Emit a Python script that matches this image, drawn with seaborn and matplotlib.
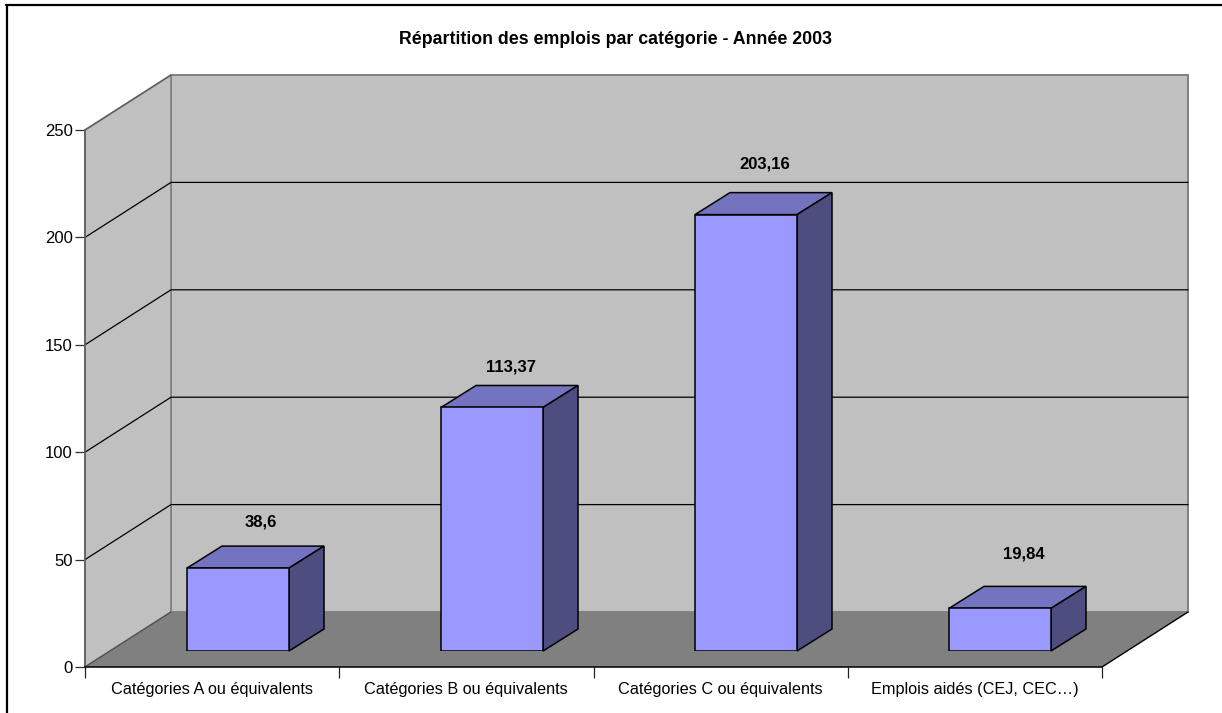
import pandas as pd
import seaborn as sns
import matplotlib.pyplot as plt
from matplotlib.ticker import FixedLocator, NullFormatter

categories = ['Catégories A ou équivalents', 'Catégories B ou équivalents',
              'Catégories C ou équivalents', 'Emplois aidés (CEJ, CEC…)']
values = [38.6, 113.37, 203.16, 19.84]
value_labels = ['38,6', '113,37', '203,16', '19,84']
y_ticks = [0, 50, 100, 150, 200, 250]

W, H = 1222, 713
sns.set_theme(style='white')
plt.rcParams['font.family'] = ['Liberation Sans', 'DejaVu Sans']

df = pd.DataFrame({'categorie': categories, 'emplois': values})


def axes_px(fig, x0, x1, y_bottom, y_top):
    return fig.add_axes([x0 / W, 1 - y_bottom / H, (x1 - x0) / W, (y_bottom - y_top) / H])


fig = plt.figure(figsize=(W / 100, H / 100), dpi=100, facecolor='white')

# front plane: carries the axis lines, ticks and tick labels
ax_front = axes_px(fig, 85, 1102, 667, 130)
ax_front.set_xlim(-0.5, 3.5)
ax_front.set_ylim(0, 250)
ax_front.patch.set_visible(False)

px_x = 1017 / 4
px_y = 537 / 250
wall_dx = 86 / px_x
wall_dy = 55 / px_y

left, right = -0.5, 3.5
back = lambda x, y: (x + wall_dx, y + wall_dy)

ax_front.fill([back(left, 0)[0], back(right, 0)[0], back(right, 250)[0], back(left, 250)[0]],
              [back(left, 0)[1], back(right, 0)[1], back(right, 250)[1], back(left, 250)[1]],
              color='#C0C0C0', ec='#808080', lw=1.4, clip_on=False, zorder=1)
ax_front.fill([left, back(left, 0)[0], back(left, 250)[0], left],
              [0, wall_dy, 250 + wall_dy, 250],
              color='#C0C0C0', ec='#808080', lw=1.2, clip_on=False, zorder=1)
ax_front.fill([left, right, back(right, 0)[0], back(left, 0)[0]],
              [0, 0, wall_dy, wall_dy],
              color='#808080', ec='none', clip_on=False, zorder=1.5)
ax_front.plot([right, back(right, 0)[0]], [0, wall_dy], color='black', lw=1, clip_on=False, zorder=2)
ax_front.plot([left, back(left, 0)[0]], [0, wall_dy], color='#505050', lw=0.9, clip_on=False, zorder=2)

# grid lines go along the side wall then the back wall
for t in y_ticks[1:-1]:
    ax_front.plot([left, back(left, t)[0], back(right, t)[0]], [t, t + wall_dy, t + wall_dy],
                  color='black', lw=0.9, clip_on=False, zorder=2)
ax_front.plot([left, back(left, 250)[0]], [250, 250 + wall_dy], color='#606060', lw=1, clip_on=False, zorder=2)

sns.despine(ax=ax_front, top=True, right=True)
ax_front.spines['left'].set_color('#606060')
ax_front.spines['left'].set_linewidth(1.2)
ax_front.spines['bottom'].set_color('black')
ax_front.spines['bottom'].set_linewidth(1.1)
for s in ax_front.spines.values():
    s.set_zorder(3)

ax_front.set_yticks(y_ticks)
ax_front.tick_params(axis='y', length=7, width=0.9, color='#303030', pad=2, labelsize=12,
                     labelcolor='black', left=True)
ax_front.set_xticks(range(len(categories)))
ax_front.set_xticklabels(categories)
ax_front.xaxis.set_minor_locator(FixedLocator([-0.5, 0.5, 1.5, 2.5, 3.5]))
ax_front.xaxis.set_minor_formatter(NullFormatter())
ax_front.tick_params(axis='x', which='major', length=0, pad=11, labelsize=11.7, labelcolor='black')
ax_front.tick_params(axis='x', which='minor', length=8, width=0.9, color='#202020', bottom=True)
ax_front.set_xlabel('')
ax_front.set_ylabel('')

# bar plane, a bit behind the front plane
ax = axes_px(fig, 111, 1127, 651, 114)
ax.patch.set_visible(False)
bar_px_x = 254
sns.barplot(data=df, x='categorie', y='emplois', ax=ax, width=102 / bar_px_x,
            color='#9999FF', saturation=1, edgecolor='black', linewidth=1.1, zorder=5)
ax.set_xlim(-0.5, 3.5)
ax.set_ylim(0, 250)
ax.axis('off')

depth_x = 35 / bar_px_x
depth_y = 22 / px_y
for bar in ax.patches:
    x0 = bar.get_x()
    x1 = x0 + bar.get_width()
    h = bar.get_height()
    ax.fill([x0, x1, x1 + depth_x, x0 + depth_x], [h, h, h + depth_y, h + depth_y],
            fc='#7373BF', ec='black', lw=1.1, clip_on=False, zorder=4)
    ax.fill([x1, x1 + depth_x, x1 + depth_x, x1], [0, depth_y, h + depth_y, h],
            fc='#4D4D80', ec='black', lw=1.1, clip_on=False, zorder=4)

label_dx = [23, 19, 19, 24]
label_dy = [46, 40, 51, 54]
for i, lab in enumerate(value_labels):
    ax.text(i + label_dx[i] / bar_px_x, values[i] + label_dy[i] / px_y, lab,
            ha='center', va='center', fontsize=12, fontweight='bold', color='black', clip_on=False)

fig.text(615 / W, 1 - 40 / H, 'Répartition des emplois par catégorie - Année 2003',
         ha='center', va='center', fontsize=12.8, fontweight='bold', color='black')

# outer frame, only top and left show up in the picture
fig.add_artist(plt.Line2D([7 / W, 7 / W], [0, 1 - 5 / H], color='black', lw=1.6))
fig.add_artist(plt.Line2D([6 / W, 1], [1 - 5 / H, 1 - 5 / H], color='black', lw=1.6))

fig.savefig('out.png', dpi=100)
